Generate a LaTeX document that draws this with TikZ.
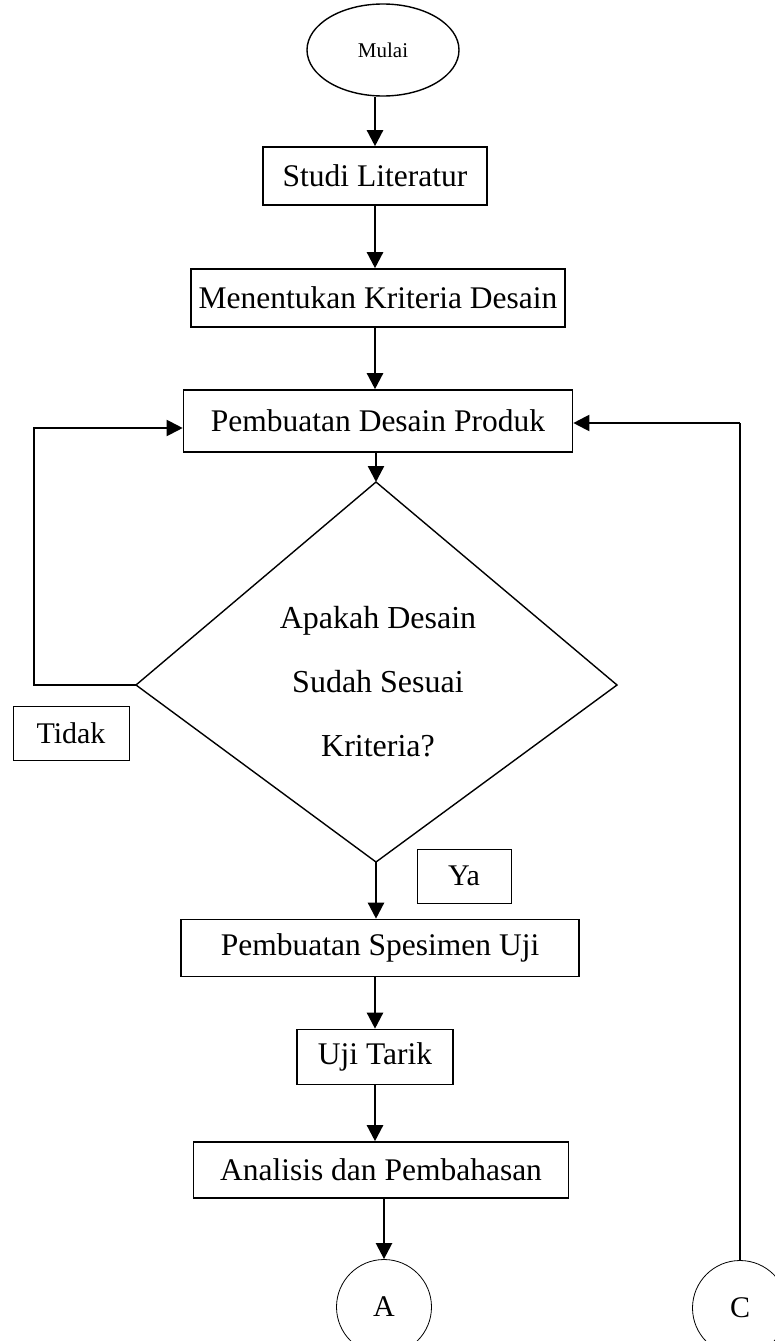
\documentclass[tikz,border=0pt]{standalone}
\usepackage{fontspec}
\setmainfont{Liberation Serif}
\usetikzlibrary{shapes.geometric,arrows.meta}
\tikzset{
  kotak/.style={draw, line width=1.6pt, minimum height=58pt, inner sep=0pt, font=\fontsize{31.5}{38}\selectfont},
  kotakkecil/.style={draw, line width=0.9pt, minimum height=54pt, inner sep=0pt, font=\fontsize{30}{36}\selectfont},
  panah/.style={-{Triangle[length=16pt,width=16pt]}, line width=2.4pt},
}
\begin{document}
\begin{tikzpicture}[x=1pt,y=-1pt]
        \useasboundingbox (0,0) rectangle (774,1341);

        % 开始
        \node[draw, ellipse, line width=1.4pt, minimum width=152pt, minimum height=92pt, font=\fontsize{21}{25}\selectfont] (mulai) at (383,50) {Mulai};

        % 流程框
        \node[kotak, minimum width=224pt] (studi) at (375,176) {Studi Literatur};
        \node[kotak, minimum width=374pt, minimum height=58pt] (kriteria) at (378,298) {Menentukan Kriteria Desain};
        \node[kotak, minimum width=389pt, minimum height=62pt] (desain) at (378,421) {Pembuatan Desain Produk};
        \node[kotak, minimum width=398pt, minimum height=57pt] (spesimen) at (380,948) {Pembuatan Spesimen Uji};
        \node[kotak, minimum width=156pt, minimum height=55pt] (uji) at (375,1057) {Uji Tarik};
        \node[kotak, minimum width=375pt, minimum height=56pt] (analisis) at (381,1170) {Analisis dan Pembahasan};

        % 判断
        \coordinate (dtop) at (376,482);
        \coordinate (dleft) at (136,685);
        \coordinate (dright) at (617,685);
        \coordinate (dbottom) at (376,862);
        \draw[line width=1.4pt] (dtop) -- (dright) -- (dbottom) -- (dleft) -- cycle;
        \node[align=center, font=\fontsize{32}{64}\selectfont] (tanya) at (378,682) {Apakah Desain\\Sudah Sesuai\\Kriteria?};

        % 标签
        \node[kotakkecil, minimum width=116pt] (tidak) at (71,733) {Tidak};
        \node[kotakkecil, minimum width=94pt] (ya) at (464,876) {Ya};

        % 连接点
        \node[draw, circle, line width=0.8pt, minimum size=95pt, inner sep=0pt, font=\fontsize{30}{36}\selectfont] (a) at (384,1307) {A};
        \node[draw, circle, line width=0.8pt, minimum size=95pt, inner sep=0pt, font=\fontsize{30}{36}\selectfont] (c) at (740,1308) {C};

        % 箭头
        \draw[panah] (mulai.south -| studi.north) -- (studi.north);
        \draw[panah] (studi.south) -- (studi.south |- kriteria.north);
        \draw[panah] (studi.south |- kriteria.south) -- (studi.south |- desain.north);
        \draw[panah] (desain.south -| dtop) -- (dtop);
        \draw[panah] (dbottom) -- (dbottom |- spesimen.north);
        \draw[panah] (spesimen.south -| uji.north) -- (uji.north);
        \draw[panah] (uji.south) -- (uji.south |- analisis.north);
        \draw[panah] (a.north |- analisis.south) -- (a.north);

        % 回路
        \coordinate (kiri) at (34,685);
        \coordinate (kiriatas) at (34,428);
        \draw[panah, line width=2pt] (dleft) -- (kiri) -- (kiriatas) -- (kiriatas -| desain.west);
        \coordinate (kanan) at (740,423);
        \draw[line width=1.6pt] (c.north) -- (kanan);
        \draw[panah, line width=2pt] (kanan) -- (kanan -| desain.east);

    \end{tikzpicture}
\end{document}
